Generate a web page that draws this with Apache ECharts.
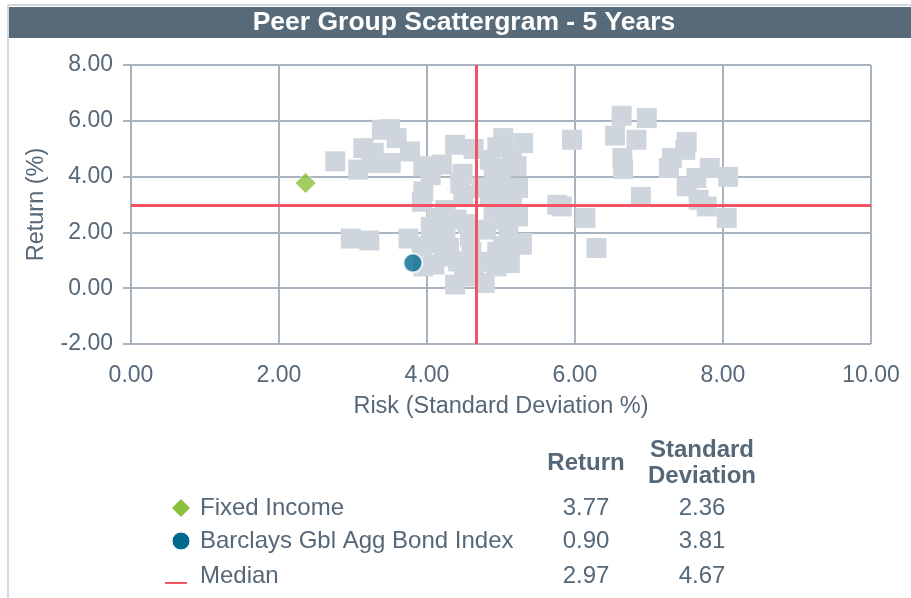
<!DOCTYPE html>
<html>
<head>
<meta charset="utf-8">
<script src="https://cdn.jsdelivr.net/npm/echarts@6/dist/echarts.min.js"></script>
<style>
html,body{margin:0;padding:0;background:#fff;}
#chart{width:911px;height:598px;}
</style>
</head>
<body>
<div id="chart"></div>
<script>
// ---- Data ----
const titleText = 'Peer Group Scattergram - 5 Years';
const xTicks = [0, 2, 4, 6, 8, 10];
const yTicks = [-2, 0, 2, 4, 6, 8];
const peerRisk = [2.76,2.97,3.22,3.75,3.39,3.59,3.77,3.14,3.07,3.25,3.51,3.95,3.95,4.20,4.38,4.63,4.48,4.49,5.03,5.30,5.21,5.23,4.94,4.85,4.13,4.40,3.93,3.95,4.22,4.42,4.38,4.63,4.78,5.03,5.28,5.12,4.94,5.03,5.23,4.90,4.18,4.58,5.96,6.63,6.97,6.54,6.83,6.64,6.65,7.51,7.49,7.31,7.27,7.82,7.64,8.07,7.51,7.67,7.78,8.05,6.89,5.76,5.82,6.14,6.29,5.28,3.93,4.05,4.25,4.90,5.00,5.10,4.85,5.15,5.05,4.50,4.70,4.30,4.60,4.10,4.05,4.75,4.25,4.55,4.80,5.10,4.95,4.45,5.15,4.95,3.50,3.28];
const peerReturn = [4.55,1.78,1.71,1.78,5.68,5.38,4.90,5.02,4.25,4.49,4.49,4.37,3.47,4.43,5.14,4.99,4.10,3.35,5.38,5.20,4.37,3.59,3.77,4.60,2.52,2.46,1.50,0.78,1.14,0.96,0.13,0.42,0.19,1.50,1.56,0.90,0.78,2.46,2.57,2.81,1.62,1.86,5.32,6.18,6.10,5.47,5.32,4.67,4.27,5.24,4.96,4.67,4.31,4.31,3.95,3.99,3.65,3.17,2.93,2.52,3.27,2.99,2.93,2.52,1.44,1.62,3.10,2.20,2.05,4.30,4.00,3.30,3.30,2.95,3.60,0.60,0.95,1.45,1.30,0.85,4.05,3.60,2.80,2.30,2.10,2.10,1.30,3.75,4.70,5.05,5.70,4.85];
const seriesNames = ['Fixed Income', 'Barclays Gbl Agg Bond Index', 'Median'];
const seriesReturn = [3.77, 0.90, 2.97];
const seriesStdDev = [2.36, 3.81, 4.67];
const colHeaders = ['Return', 'Standard\nDeviation'];

// ---- Styles ----
const FONT = "'Liberation Sans',Arial,sans-serif";
const TXT = '#566878';
const GRIDC = '#a9b4c0';
const RED = '#f25465';
const GREEN = '#8cc03c';
const BLUE = '#006a8e';
const PEER = '#cfd5dd';

const peerData = peerRisk.map((r, i) => [r, peerReturn[i]]);

const chart = echarts.init(document.getElementById('chart'), null, {renderer: 'canvas'});

const rowY = [508, 541, 576];
const graphics = [
  {type: 'line', shape: {x1: 8, y1: 5, x2: 911, y2: 5}, style: {stroke: '#d3d8dd', lineWidth: 2}},
  {type: 'line', shape: {x1: 8, y1: 5, x2: 8, y2: 598}, style: {stroke: '#d3d8dd', lineWidth: 2}},
  {type: 'rect', shape: {x: 9, y: 7, width: 902, height: 31}, style: {fill: '#566a7a'}},
  {type: 'text', x: 464, y: 23, style: {text: titleText, fill: '#fff', font: "bold 26.5px " + FONT, textAlign: 'center', textVerticalAlign: 'middle'}},
  {type: 'text', x: 586, y: 463, style: {text: colHeaders[0], fill: TXT, font: "bold 24px " + FONT, textAlign: 'center', textVerticalAlign: 'middle'}},
  {type: 'text', x: 702, y: 463, style: {text: colHeaders[1], fill: TXT, font: "bold 24px " + FONT, textAlign: 'center', textVerticalAlign: 'middle', lineHeight: 26}},
  {type: 'polygon', shape: {points: [[181, 499], [190, 508], [181, 517], [172, 508]]}, style: {fill: GREEN}},
  {type: 'circle', shape: {cx: 181, cy: 541, r: 9}, style: {fill: BLUE, stroke: '#fff', lineWidth: 1}},
  {type: 'line', shape: {x1: 165, y1: 583, x2: 187, y2: 583}, style: {stroke: RED, lineWidth: 2}}
];
seriesNames.forEach((n, i) => {
  graphics.push({type: 'text', x: 200, y: rowY[i], style: {text: n, fill: TXT, font: "24px " + FONT, textAlign: 'left', textVerticalAlign: 'middle'}});
  graphics.push({type: 'text', x: 586, y: rowY[i], style: {text: seriesReturn[i].toFixed(2), fill: TXT, font: "24px " + FONT, textAlign: 'center', textVerticalAlign: 'middle'}});
  graphics.push({type: 'text', x: 702, y: rowY[i], style: {text: seriesStdDev[i].toFixed(2), fill: TXT, font: "24px " + FONT, textAlign: 'center', textVerticalAlign: 'middle'}});
});

const option = {
  backgroundColor: '#fff',
  animation: false,
  textStyle: {fontFamily: FONT},
  grid: {left: 131, right: 40, top: 65, bottom: 254, containLabel: false},
  xAxis: {
    type: 'value', min: xTicks[0], max: xTicks[xTicks.length - 1], interval: 2,
    name: 'Risk (Standard Deviation %)', nameLocation: 'middle', nameGap: 51,
    nameTextStyle: {color: TXT, fontSize: 23.5, fontFamily: FONT},
    axisLine: {show: true, lineStyle: {color: GRIDC, width: 2}},
    axisTick: {show: true, length: 8, lineStyle: {color: GRIDC, width: 2}},
    axisLabel: {color: TXT, fontSize: 23, fontFamily: FONT, margin: 20, formatter: v => v.toFixed(2)},
    splitLine: {show: true, lineStyle: {color: GRIDC, width: 2}}
  },
  yAxis: {
    type: 'value', min: yTicks[0], max: yTicks[yTicks.length - 1], interval: 2,
    name: 'Return (%)', nameLocation: 'middle', nameGap: 82, nameRotate: 90,
    nameTextStyle: {color: TXT, fontSize: 23.5, fontFamily: FONT},
    axisLine: {show: true, lineStyle: {color: GRIDC, width: 2}},
    axisTick: {show: true, length: 8, lineStyle: {color: GRIDC, width: 2}},
    axisLabel: {color: TXT, fontSize: 23, fontFamily: FONT, margin: 18, formatter: v => v.toFixed(2)},
    splitLine: {show: true, lineStyle: {color: GRIDC, width: 2}}
  },
  graphic: graphics,
  series: [
    {
      name: 'Peer Group', type: 'scatter', symbol: 'rect', symbolSize: 20, z: 2,
      itemStyle: {color: PEER, opacity: 1}, data: peerData, silent: true
    },
    {
      name: seriesNames[2], type: 'scatter', data: [], z: 3,
      markLine: {
        silent: true, symbol: ['none', 'none'], label: {show: false},
        lineStyle: {color: RED, width: 3, type: 'solid'},
        data: [{xAxis: seriesStdDev[2]}, {yAxis: seriesReturn[2]}]
      }
    },
    {
      name: seriesNames[0], type: 'scatter', symbol: 'diamond', symbolSize: 21, z: 4,
      itemStyle: {color: GREEN, borderColor: '#fff', borderWidth: 1},
      data: [[seriesStdDev[0], seriesReturn[0]]]
    },
    {
      name: seriesNames[1], type: 'scatter', symbol: 'circle', symbolSize: 19, z: 4,
      itemStyle: {color: BLUE, borderColor: '#fff', borderWidth: 2},
      data: [[seriesStdDev[1], seriesReturn[1]]]
    }
  ]
};
chart.setOption(option);
</script>
</body>
</html>
